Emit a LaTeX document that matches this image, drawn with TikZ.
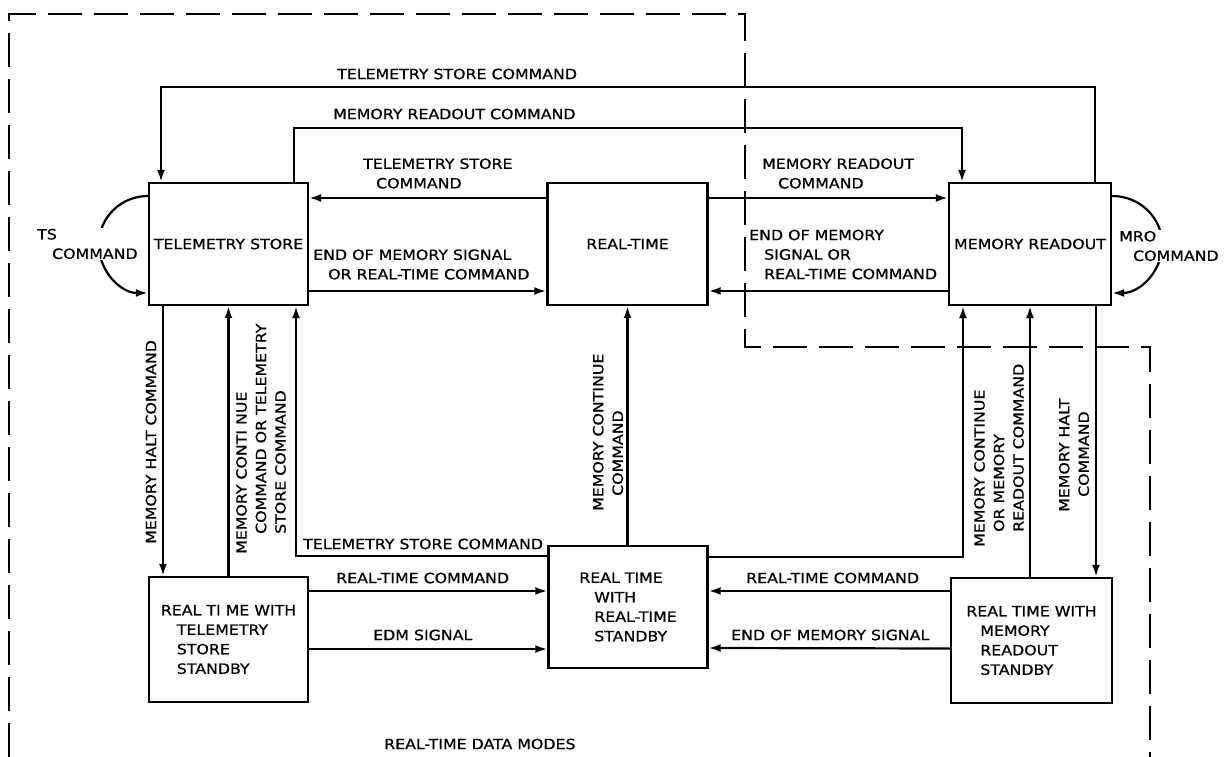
\documentclass[tikz,border=0pt]{standalone}
\usepackage{fontspec}
\setmainfont{DejaVu Sans}[FakeStretch=1.12,FakeBold=0.8]
\usetikzlibrary{arrows.meta}
\begin{document}
\begin{tikzpicture}[x=1pt,y=-1pt,
  font=\fontsize{14.1}{19.5}\selectfont,
  box/.style={draw, line width=2.4pt, inner sep=0pt, align=left},
  conn/.style={line width=2.2pt},
  arr/.style={conn, -{Latex[length=12pt,width=8pt]}},
  lbl/.style={inner sep=1pt, anchor=west, align=left},
  vlbl/.style={inner sep=1pt, anchor=west, align=left, rotate=90},
  dashline/.style={line width=2.2pt, dash pattern=on 34pt off 12pt}
]
\useasboundingbox (0,0) rectangle (1232,757);
% outer dashed boundary
\draw[dashline] (9,757) -- (9,14) -- (745,14) -- (745,347) -- (1150,347) -- (1150,757);

% boxes
\node[box, minimum width=159pt, minimum height=122pt] (ts) at (228.5,244) {TELEMETRY STORE};
\node[box, minimum width=160pt, minimum height=122pt] (rt) at (627.5,244) {REAL-TIME};
\node[box, minimum width=162pt, minimum height=122pt] (mr) at (1030,244) {MEMORY READOUT};
\node[box, minimum width=159pt, minimum height=125pt] (rtts) at (228.5,639.5) {REAL TI ME WITH\\\hspace*{16pt}TELEMETRY\\\hspace*{16pt}STORE\\\hspace*{16pt}STANDBY};
\node[box, minimum width=159pt, minimum height=122pt] (rtrt) at (628,607) {REAL TIME\\\hspace*{15pt}WITH\\\hspace*{15pt}REAL-TIME\\\hspace*{15pt}STANDBY};
\node[box, minimum width=161pt, minimum height=125pt] (rtmr) at (1031.5,640.5) {REAL TIME WITH\\\hspace*{14pt}MEMORY\\\hspace*{14pt}READOUT\\\hspace*{14pt}STANDBY};

% top long connectors
\draw[arr] ([xshift=65pt]mr.north) -- ++(0,-95) -| ([xshift=-67.5pt]ts.north);
\draw[arr] ([xshift=65.5pt]ts.north) -- ++(0,-54) -| ([xshift=-68pt]mr.north);
% horizontal connectors top row
\draw[arr] ([yshift=46pt]rt.west) -- ([yshift=46pt]ts.east);
\draw[arr] ([yshift=-47pt]ts.east) -- ([yshift=-47pt]rt.west);
\draw[arr] ([yshift=46pt]rt.east) -- ([yshift=46pt]mr.west);
\draw[arr] ([yshift=-47pt]mr.west) -- ([yshift=-47pt]rt.east);
% self loops
\draw[arr] ([yshift=48pt]ts.west) arc[start angle=90, end angle=270, x radius=49pt, y radius=48.5pt];
\draw[arr] ([yshift=48pt]mr.east) arc[start angle=90, end angle=-90, x radius=50pt, y radius=48.5pt];
% verticals left
\draw[arr] ([xshift=-65.5pt]ts.south) -- ([xshift=-65.5pt]rtts.north);
\draw[arr] (rtts.north) -- (ts.south);
\draw[arr] ([yshift=51pt]rtrt.west) -| ([xshift=67.5pt]ts.south);
% bottom horizontals
\draw[arr] ([yshift=48.5pt]rtts.east) -- ([yshift=16pt]rtrt.west);
\draw[arr] ([yshift=-9.5pt]rtts.east) -- ([yshift=-42pt]rtrt.west);
\draw[arr] ([yshift=49.5pt]rtmr.west) -- ([yshift=16pt]rtrt.east);
\draw[arr] ([yshift=-8pt]rtmr.west) -- ([yshift=-41pt]rtrt.east);
% middle and right verticals
\draw[arr] ([xshift=-0.5pt]rtrt.north) -- (rt.south);
\draw[arr] ([yshift=50pt]rtrt.east) -| ([xshift=-67pt]mr.south);
\draw[arr] ([xshift=-1.5pt]rtmr.north) -- (mr.south);
\draw[arr] ([xshift=66pt]mr.south) -- ([xshift=64.5pt]rtmr.north);

% labels
\node[lbl] (l1) at (336,74) {TELEMETRY STORE COMMAND};
\node[lbl] (l2) at (332,114) {MEMORY READOUT COMMAND};
\node[lbl] (l3) at (362,173.5) {TELEMETRY STORE\\\hspace*{13pt}COMMAND};
\node[lbl] (l4) at (312,264.5) {END OF MEMORY SIGNAL\\\hspace*{15pt}OR REAL-TIME COMMAND};
\node[lbl] (l5) at (761,173.5) {MEMORY READOUT\\\hspace*{16pt}COMMAND};
\node[lbl] (l6) at (748,254.5) {END OF MEMORY\\\hspace*{15pt}SIGNAL OR\\\hspace*{15pt}REAL-TIME COMMAND};
\node[lbl, fill=white] (l7) at (36,244) {TS\\\hspace*{15pt}COMMAND};
\node[lbl, fill=white] (l8) at (1118,246) {MRO\\\hspace*{14pt}COMMAND};
\node[lbl] (l9) at (302,544) {TELEMETRY STORE COMMAND};
\node[lbl] (l10) at (335,578) {REAL-TIME COMMAND};
\node[lbl] (l11) at (372,635) {EDM SIGNAL};
\node[lbl] (l12) at (745,578) {REAL-TIME COMMAND};
\node[lbl] (l13) at (730,635) {END OF MEMORY SIGNAL};
\node[lbl] (l14) at (383,744) {REAL-TIME DATA MODES};

% rotated labels
\node[vlbl] (v1) at (151,545) {MEMORY HALT COMMAND};
\node[vlbl] (v2) at (261,555) {MEMORY CONTI NUE\\\hspace*{20pt}COMMAND OR TELEMETRY\\\hspace*{20pt}STORE COMMAND};
\node[vlbl] (v3) at (608,512) {MEMORY CONTINUE\\\hspace*{15pt}COMMAND};
\node[vlbl] (v4) at (999,548) {MEMORY CONTINUE\\\hspace*{15pt}OR MEMORY\\\hspace*{15pt}READOUT COMMAND};
\node[vlbl] (v5) at (1074,513) {MEMORY HALT\\\hspace*{15pt}COMMAND};
\end{tikzpicture}
\end{document}
